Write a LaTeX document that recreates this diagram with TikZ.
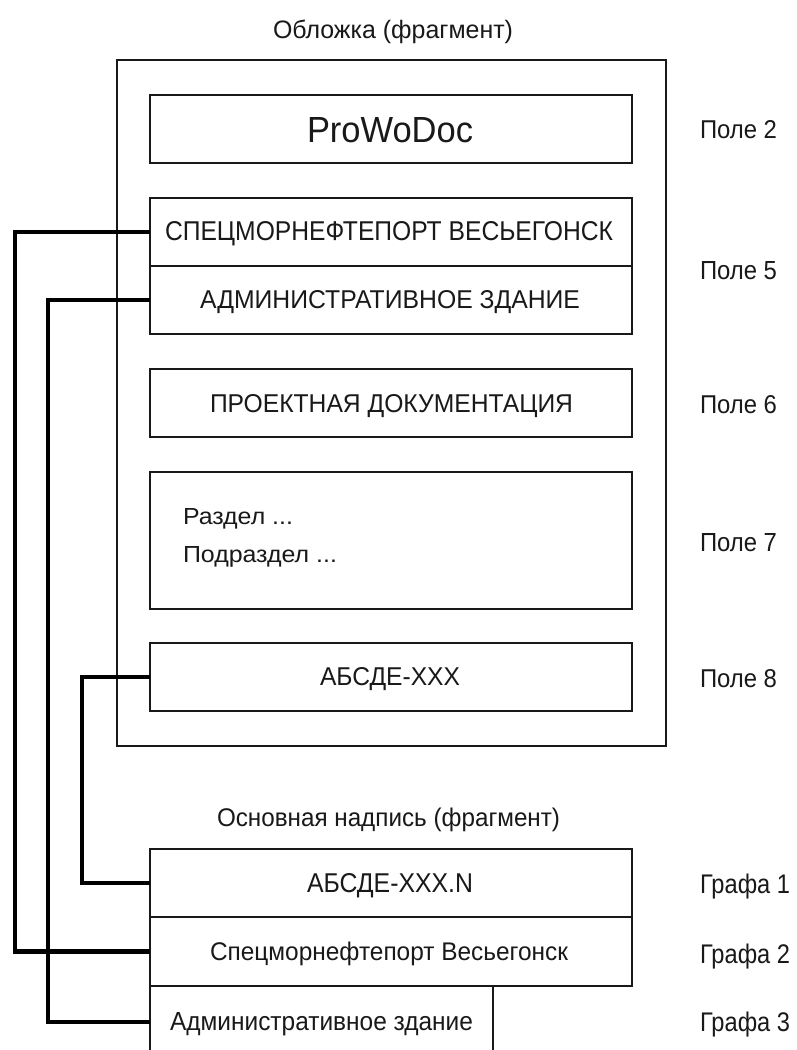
\documentclass[tikz,border=0pt]{standalone}
\usepackage{fontspec}
\setmainfont{Liberation Sans}
\usepackage{graphicx}
\newcommand{\fitt}[3]{\resizebox{#1pt}{#2pt}{#3}}
\begin{document}
\begin{tikzpicture}[x=1pt,y=-1pt,
  box/.style={draw=black!90,line width=1.6pt,inner sep=0pt,outer sep=0pt,minimum width=482pt,minimum height=68pt},
  txt/.style={inner sep=0pt,outer sep=0pt,anchor=base west,text=black!90},
  conn/.style={draw=black,line width=4.5pt,line join=miter,line cap=butt}]
\useasboundingbox[fill=white] (0,0) rectangle (797,1050);
% cover
\node[box,minimum width=549pt,minimum height=686pt] (cover) at (391.5,403) {};
\node[box] (p2) at (391,129) {};
\node[box] (s5a) at (391,232) {};
\node[box] (s5b) at (391,300) {};
\node[box] (p6) at (391,403) {};
\node[box,minimum height=137pt] (p7) at (391,540.5) {};
\node[box] (p8) at (391,677) {};
% title block
\node[box,minimum height=68pt] (g1) at (391,883) {};
\node[box,minimum height=69pt] (g2) at (391,951.5) {};
\node[inner sep=0pt,outer sep=0pt,minimum width=343pt,minimum height=72pt] (g3) at (321.5,1022) {};
\coordinate (bot) at (0,1050);
\draw[line width=1.6pt,draw=black!90] (g3.north west) -- (g3.north west |- bot);
\draw[line width=1.6pt,draw=black!90] (g3.north east) -- (g3.north east |- bot);
% texts
\node[txt] (t0) at (273,38) {\fitt{240}{18.5}{Обложка (фрагмент)}};
\node[txt] (t2) at (307,142) {\fitt{166}{25}{ProWoDoc}};
\node[txt] (t5a) at (165,240) {\fitt{448}{19}{СПЕЦМОРНЕФТЕПОРТ ВЕСЬЕГОНСК}};
\node[txt] (t5b) at (200,308) {\fitt{380}{18}{АДМИНИСТРАТИВНОЕ ЗДАНИЕ}};
\node[txt] (t6) at (210,412) {\fitt{363}{18}{ПРОЕКТНАЯ ДОКУМЕНТАЦИЯ}};
\node[txt] (t7a) at (183,524) {\fitt{110}{16}{Раздел ...}};
\node[txt] (t7b) at (183,562) {\fitt{154}{16}{Подраздел ...}};
\node[txt] (t8) at (320,685) {\fitt{140}{18}{АБСДЕ-ХХХ}};
\node[txt] (l2) at (700,138) {\fitt{77}{18}{Поле 2}};
\node[txt] (l5) at (700,279) {\fitt{77}{18}{Поле 5}};
\node[txt] (l6) at (700,413) {\fitt{77}{18}{Поле 6}};
\node[txt] (l7) at (700,551) {\fitt{77}{18}{Поле 7}};
\node[txt] (l8) at (700,687) {\fitt{77}{18}{Поле 8}};
\node[txt] (tb) at (217,826) {\fitt{343}{18.5}{Основная надпись (фрагмент)}};
\node[txt] (tg1) at (307,892) {\fitt{166}{19}{АБСДЕ-ХХХ.N}};
\node[txt] (tg2) at (210,960) {\fitt{358}{18.5}{Спецморнефтепорт Весьегонск}};
\node[txt] (tg3) at (170,1030) {\fitt{303}{18}{Административное здание}};
\node[txt] (lg1) at (700,893) {\fitt{90}{19.5}{Графа 1}};
\node[txt] (lg2) at (700,963) {\fitt{90}{19.5}{Графа 2}};
\node[txt] (lg3) at (700,1031) {\fitt{90}{19.5}{Графа 3}};
% connectors
\coordinate (c1) at (15,0);
\coordinate (c2) at (48,0);
\coordinate (c3) at (82,0);
\draw[conn] (s5a.west) -- (s5a.west -| c1) |- (g2.west);
\draw[conn] (s5b.west) -- (s5b.west -| c2) |- (g3.west);
\draw[conn] (p8.west) -- (p8.west -| c3) |- (g1.west);
\end{tikzpicture}
\end{document}
